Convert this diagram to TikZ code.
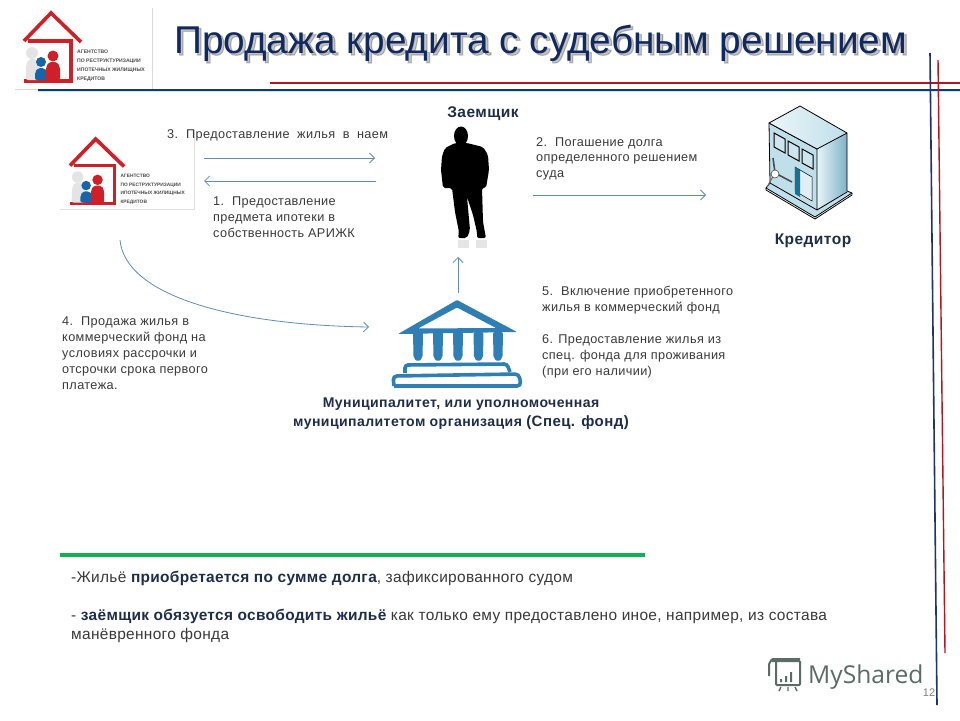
\documentclass[tikz,border=0pt]{standalone}
\usepackage{fontspec}
\usetikzlibrary{arrows.meta}
\setmainfont{Liberation Sans}
\newfontfamily\lab[LetterSpace=3]{Liberation Sans}
\newfontfamily\botf[LetterSpace=2]{Liberation Sans}
\newfontfamily\shadowf[FakeBold=3]{Liberation Sans}
\newfontfamily\markfont{Open Sans}
\definecolor{navy}{HTML}{10295E}
\definecolor{deepnavy}{HTML}{1F3566}
\definecolor{redline}{HTML}{B3161E}
\definecolor{arrowblue}{HTML}{5F8CB8}
\definecolor{txt}{HTML}{3A3A3A}
\definecolor{lbl}{HTML}{1E2E4A}
\definecolor{logored}{HTML}{CF2027}
\definecolor{logoblue}{HTML}{1565A8}
\definecolor{logogray}{HTML}{E4E4E4}
\definecolor{templeblue}{HTML}{2F7FB5}
\definecolor{bldg}{HTML}{BFDFEA}
\definecolor{bldgd}{HTML}{7FB2C9}
\definecolor{markgray}{HTML}{5B6B66}
\definecolor{greenline}{HTML}{14B04F}
\newcommand{\gapp}{\hspace{8pt}}
\newcommand{\wgap}{\hspace{7.5pt}}
\tikzset{
 x=1pt,y=-1pt,
 flow/.style={draw=arrowblue,line width=.8pt,-{Straight Barb[length=5pt,width=10pt]}},
 note/.style={inner sep=0pt,anchor=north west,align=left,text=txt,font=\fontsize{12.7}{15.9}\lab},
 head/.style={inner sep=0pt,text=lbl,font=\fontsize{15.5}{17}\bfseries\lab},
 logo/.pic={
  \draw[logored,line width=3.6pt,line join=miter] (0,28)--(27,0)--(57,29);
  \draw[logored,line width=3.6pt] (4,28)--(47,28)--(47,68)--(0,68);
  \fill[logogray] (8,40) circle (6);
  \fill[logogray,rounded corners=2pt] (2,67)--(2,52)--(5,46)--(13,46)--(16,52)--(16,67)--cycle;
  \fill[logoblue] (17,49) circle (5);
  \fill[logoblue,rounded corners=2pt] (11,67)--(11,59)--(14,55)--(20,55)--(24,59)--(24,67)--cycle;
  \fill[logored] (29,43) circle (5.5);
  \fill[logored,rounded corners=2pt] (22,67)--(22,54)--(25,49)--(33,49)--(36,54)--(36,67)--cycle;
  \node[inner sep=0pt,anchor=north west,align=left,text=black!70,transform shape,font=\fontsize{5.1}{8.9}\bfseries] at (53,37) {АГЕНТСТВО\\ПО РЕСТРУКТУРИЗАЦИИ\\ИПОТЕЧНЫХ ЖИЛИЩНЫХ\\КРЕДИТОВ};
 }
}
\begin{document}
\begin{tikzpicture}
\useasboundingbox (0,0) rectangle (960,720);
\fill[white] (0,0) rectangle (960,720);
% rules
\draw[black!15,line width=.7pt] (152,8)--(152,89);
\draw[black!15,line width=.7pt] (15,89)--(152,89);
\draw[redline,line width=1.6pt] (270,83)--(960,83);
\draw[blue!20!cyan!30,line width=.8pt] (38,91.5)--(960,91.5);
\draw[deepnavy,line width=1.6pt] (38,90)--(960,90);
\draw[deepnavy,line width=1.6pt] (930,53)--(937,705);
\draw[redline,line width=1.4pt] (938,60)--(945,653);
% title
\node[inner sep=0pt,anchor=base west,text=black,opacity=.22,font=\fontsize{38.75}{40}\shadowf] (titleshadow) at (176,55) {Продажа кредита с судебным решением};
\node[inner sep=0pt,anchor=base west,text=navy,font=\fontsize{38.75}{40}\selectfont] (title) at (174,53) {Продажа кредита с судебным решением};
% logos
\pic at (24,13) {logo};
\draw[black!12,line width=.7pt] (194,130)--(194,209)--(60,209);
\pic[scale=.95] at (70,139) {logo};
% man
\coordinate (man) at (463,185);
\fill[black!10] (458,240) rectangle (469,248);
\fill[black!10] (476,240) rectangle (487,248);
\fill[black] (461,136) ellipse (7 and 9.5);
\fill[black,rounded corners=2pt] (455,143)--(445,148)--(442,156)--(441,170)--(443,188)--(452,188)--(455,212)--(459,232)--(458,238)--(467,238)--(470,230)--(467,197)--(473,215)--(477,232)--(477,238)--(486,238)--(483,222)--(482,188)--(486,188)--(489,170)--(488,155)--(483,147)--(467,143)--cycle;
% temple
\coordinate (temple) at (458,345);
\fill[templeblue,even odd rule,rounded corners=1pt] (457,300)--(517,332)--(398,334)--cycle (457,307.5)--(418,328.5)--(496,328)--cycle;
\foreach \cx in {418,438,458,478.5,498}{\fill[templeblue,rounded corners=2pt] (\cx-5,332)--(\cx+5,332)--(\cx+4.5,358)--(\cx,362)--(\cx-4.5,358)--cycle;}
\draw[templeblue,line width=3.6pt,rounded corners=3pt] (405,373)--(405,365)--(507,364)--(510,372);
\draw[templeblue,line width=3.6pt,rounded corners=4pt] (394,386)--(393,376)--(519,374)--(521,386)--(394,386);
% creditor building
\coordinate (bank) at (808,165);
\fill[bldg,draw=black,line width=.8pt,line join=round] (766,188)--(815,217)--(852,193)--(847,191)--(817,149)--(769,123)--(770,183)--cycle;
\shade[left color=bldg!35,right color=bldgd] (817,149)--(847,133)--(847,191)--(817,209)--cycle;
\shade[left color=bldg!30,right color=bldg] (769,123)--(800,106)--(847,133)--(817,149)--cycle;
\draw[black,line width=.8pt,line join=round] (769,123)--(800,106)--(847,133)--(817,149)--cycle (847,133)--(847,191);
\draw[black,line width=.8pt] (817,149)--(817,209) (770,183)--(817,210)--(847,192) (766,188)--(766,190)--(815,219)--(852,195)--(852,193);
\foreach \a/\b in {774/133,788/141,802/149}{
 \fill[bldg!80,draw=black,line width=1pt] (\a,\b)--(\a+11,\b+6)--(\a+11,\b+20)--(\a,\b+14)--cycle;}
\fill[bldg!50,draw=black,line width=.5pt] (795,167)--(812,177)--(812,201)--(795,191)--cycle;
\fill[deepnavy!70!cyan] (795,167)--(800,170)--(800,197)--(795,194)--cycle;
\draw[black!70,line width=1.6pt] (775,173)--(773,158) (775,173)--(792,182);
\draw[black!60,line width=1pt] (775,173)--(767,187);
\fill[white,draw=black!70,line width=.6pt] (775,174) circle (4);
% labels
\node[head] (zaem) at (483,114) {Заемщик};
\node[head] (kred) at (813,241) {Кредитор};
\node[inner sep=0pt,align=center,text=lbl,font=\fontsize{14.05}{19}\bfseries\lab] (mun) at (461,414) {Муниципалитет, или уполномоченная\\муниципалитетом организация {\fontsize{15}{19}\selectfont (Спец. фонд)}};
\node[note] (t3) at (167,129) {3.\gapp Предоставление\wgap жилья\wgap в\wgap наем};
\node[note] (t1) at (213,197) {1.\gapp Предоставление\\предмета ипотеки в\\собственность АРИЖК};
\node[note] (t2) at (536,137) {2.\gapp Погашение долга\\определенного решением\\суда};
\node[note] (t4) at (62,317) {4.\gapp Продажа жилья в\\коммерческий фонд на\\условиях рассрочки и\\отсрочки срока первого\\платежа.};
\node[note] (t5) at (542,286) {5.\gapp Включение приобретенного\\жилья в коммерческий фонд\\[16.5pt]6. Предоставление жилья из\\спец. фонда для проживания\\(при его наличии)};
% arrows
\coordinate (a3s) at (204,158); \coordinate (a3e) at (375,158);
\coordinate (a1s) at (376,181); \coordinate (a1e) at (204,181);
\coordinate (a2s) at (533,195); \coordinate (a2e) at (706,195);
\coordinate (aus) at (458,293); \coordinate (aue) at (458,257);
\coordinate (a4s) at (120,240); \coordinate (a4e) at (369,327);
\draw[flow] (a3s)--(a3e);
\draw[flow] (a1s)--(a1e);
\draw[flow] (a2s)--(a2e);
\draw[flow] (aus)--(aue);
\draw[flow] (a4s) .. controls (125,295) and (230,325) .. (a4e);
% green
\draw[greenline,line width=4.5pt] (60,555)--(645,555);
% bottom text
\node[inner sep=0pt,anchor=north west,align=left,text=txt,font=\fontsize{15.45}{19}\botf] (bot) at (71,571) {-Жильё {\color{lbl}\bfseries приобретается по сумме долга}, зафиксированного судом\\[19pt]- {\color{lbl}\bfseries заёмщик обязуется освободить жильё} как только ему предоставлено иное, например, из состава\\манёвренного фонда};
% watermark
\node[inner sep=0pt,anchor=base west,text=markgray,font=\fontsize{24.6}{26}\markfont] (mark) at (808,683) {MyShared};
\draw[markgray,line width=2pt,rounded corners=1pt] (769,676)--(769,664) (772,661)--(800,661)--(800,685)--(776,685)--(776,661) (769,664)--(772,659)--(800,659);
\fill[markgray] (780,679) rectangle (782,682) (785,676) rectangle (787,682) (790,672) rectangle (792,682);
\draw[markgray,line width=1.4pt] (781,687)--(779,691) (788,687)--(788,691) (795,687)--(797,691);
\node[inner sep=0pt,text=black!50,font=\fontsize{11}{12}\selectfont] (num) at (929,693) {12};
\end{tikzpicture}
\end{document}
